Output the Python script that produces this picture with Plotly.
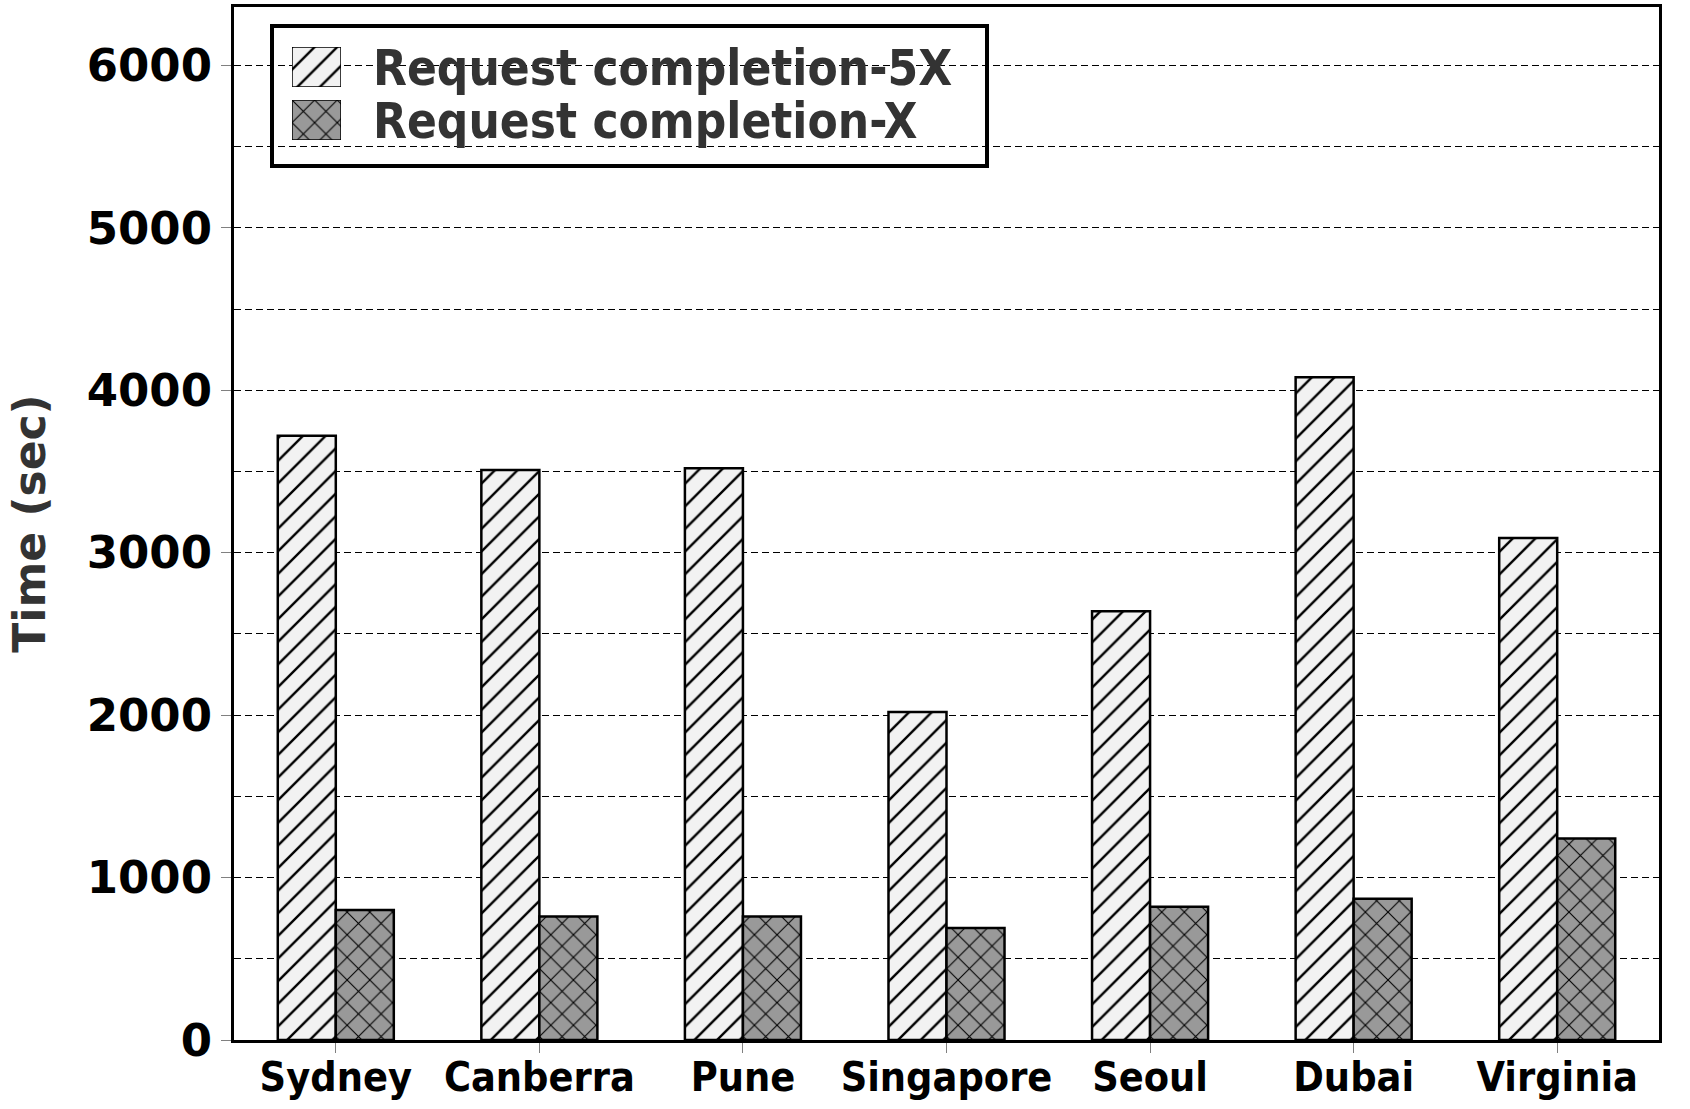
import plotly.graph_objects as go

cities = ["Sydney", "Canberra", "Pune", "Singapore", "Seoul", "Dubai", "Virginia"]
req_5x = [3720, 3510, 3520, 2020, 2640, 4080, 3090]
req_x = [800, 760, 760, 690, 820, 870, 1240]
series_names = ["Request completion-5X", "Request completion-X"]
y_ticks = [0, 1000, 2000, 3000, 4000, 5000, 6000]
swatch_value = [1]

COND = "DejaVu Sans Condensed, DejaVu Sans, sans-serif"
NORM = "DejaVu Sans, sans-serif"

# plot-area pixel geometry (for converting legend placement to paper coords)
W, H = 1690, 1109
L, R, T, B = 234, 31, 7, 69
PW, PH = W - L - R, H - T - B


def px_x(x):
    return (x - L) / PW


def px_y(y):
    return (H - B - y) / PH


styles = [
    dict(color="#f2f2f2", shape="/", solidity=0.15),
    dict(color="#999999", shape="x", solidity=0.13),
]

fig = go.Figure()
for vals, name, st in zip([req_5x, req_x], series_names, styles):
    fig.add_trace(go.Bar(
        x=cities, y=vals, name=name, showlegend=False,
        marker=dict(color=st["color"], line=dict(color="black", width=2.5),
                    pattern=dict(shape=st["shape"], fgcolor="black", fgopacity=1,
                                 bgcolor=st["color"], size=16, solidity=st["solidity"])),
    ))

# legend swatches drawn as bars in tiny inset axes
sw_boxes = [(47, 87), (100, 140)]
sw_x = (292, 341)
extra_axes = {}
for i, (st, (y0, y1)) in enumerate(zip(styles, sw_boxes)):
    ax = i + 2
    fig.add_trace(go.Bar(
        x=[0], y=swatch_value, width=1, showlegend=False, hoverinfo="skip",
        xaxis=f"x{ax}", yaxis=f"y{ax}", cliponaxis=False,
        marker=dict(color=st["color"], line=dict(color="black", width=1.5),
                    pattern=dict(shape=st["shape"], fgcolor="black", fgopacity=1,
                                 bgcolor=st["color"], size=16, solidity=st["solidity"])),
    ))
    extra_axes[f"xaxis{ax}"] = dict(domain=[px_x(sw_x[0]), px_x(sw_x[1])], range=[-0.5, 0.5],
                                    visible=False, anchor=f"y{ax}", fixedrange=True)
    extra_axes[f"yaxis{ax}"] = dict(domain=[px_y(y1), px_y(y0)], range=[0, 1],
                                    visible=False, anchor=f"x{ax}", fixedrange=True)
    fig.add_annotation(
        xref="paper", yref="paper", x=px_x(371), y=px_y((y0 + y1) / 2 + 2),
        xanchor="left", yanchor="middle", showarrow=False,
        text=series_names[i],
        font=dict(family=COND, size=49, color="#333333", weight="bold"),
    )

fig.add_shape(type="rect", xref="paper", yref="paper",
              x0=px_x(272), x1=px_x(987), y0=px_y(166), y1=px_y(26),
              line=dict(color="black", width=4), fillcolor="rgba(0,0,0,0)")

fig.update_layout(
    width=W, height=H,
    barmode="group", bargap=0.43, bargroupgap=0,
    plot_bgcolor="white", paper_bgcolor="white",
    margin=dict(l=L, r=R, t=T, b=B, autoexpand=False),
    font=dict(family=COND, color="black", size=40, weight="bold"),
    showlegend=False,
    xaxis=dict(
        showline=True, linecolor="black", linewidth=3, mirror=True,
        ticks="outside", ticklen=10, tickcolor="gray", tickwidth=1,
        tickfont=dict(family=COND, size=41, color="black", weight="bold"),
        ticklabelstandoff=-11,
        showgrid=False, automargin=False,
    ),
    yaxis=dict(
        range=[0, 6360],
        tickvals=y_ticks,
        showline=True, linecolor="black", linewidth=3, mirror=True,
        ticks="outside", ticklen=10, tickcolor="gray", tickwidth=1,
        tickfont=dict(family=NORM, size=45, color="black", weight="bold"),
        showgrid=True, gridcolor="black", gridwidth=1, griddash="7px,4px",
        minor=dict(dtick=500, showgrid=True, gridcolor="black", gridwidth=1,
                   griddash="7px,4px", ticks=""),
        zeroline=False, automargin=False,
        title=dict(text="Time (sec)", standoff=28,
                   font=dict(family=NORM, size=44, color="#333333", weight="bold")),
    ),
    **extra_axes,
)

fig.write_html("out.html", post_script="document.body.style.margin='0';",
               config={"displayModeBar": False})
